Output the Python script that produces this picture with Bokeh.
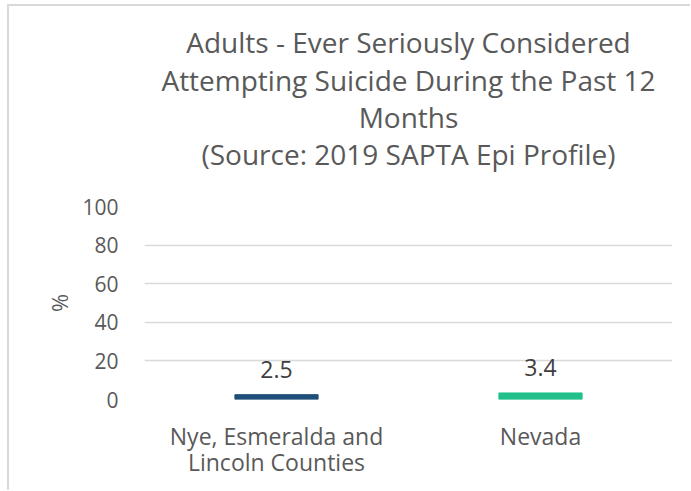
from bokeh.plotting import figure
from bokeh.models import Range1d, FactorRange, Title
from bokeh.core.properties import value
from bokeh.embed import file_html
from bokeh.resources import INLINE

categories = ["Nye, Esmeralda and\nLincoln Counties", "Nevada"]
values = [2.5, 3.4]
value_labels = ["2.5", "3.4"]
bar_colors = ["#1F4E79", "#21C08B"]
title_lines = [
    "Adults - Ever Seriously Considered",
    "Attempting Suicide During the Past 12",
    "Months",
    "(Source: 2019 SAPTA Epi Profile)",
]
y_ticks = [0, 20, 40, 60, 80, 100]

FONT = "Open Sans"
GREY = "#595959"
TSIZE = "28px"

p = figure(
    width=690, height=490,
    x_range=FactorRange(*categories, range_padding=0),
    y_range=Range1d(0, 100),
    output_backend="svg", toolbar_location=None,
    min_border_left=144, min_border_right=18,
    min_border_top=206, min_border_bottom=91,
)
p.styles = {
    "background-image": "linear-gradient(#d9d9d9,#d9d9d9), linear-gradient(#d9d9d9,#d9d9d9)",
    "background-size": "100% 2px, 2px 100%",
    "background-position": "7px 4px, 7px 4px",
    "background-repeat": "no-repeat",
}
p.outline_line_color = None
p.background_fill_color = "white"
p.border_fill_color = None

def style_title(t, text, so):
    t.text = text
    t.align = "center"
    t.text_font = FONT
    t.text_font_size = TSIZE
    t.text_font_style = "normal"
    t.text_color = GREY
    t.standoff = so

# p.title is outermost; added titles stack outward from the frame
style_title(p.title, title_lines[0], -2)
spacer = Title()
style_title(spacer, " ", -5)
p.add_layout(spacer, "above")
for line, so in [(title_lines[3], -2), (title_lines[2], -4), (title_lines[1], -2)]:
    t = Title()
    style_title(t, line, so)
    p.add_layout(t, "above")

p.vbar(x=categories, top=values, width=0.315, color=bar_colors)
p.text(x=categories, y=values, text=value_labels, y_offset=-17,
       text_align="center", text_baseline="bottom",
       text_font=value(FONT), text_font_size="23px", text_color="#404040")

p.xgrid.grid_line_color = None
p.ygrid.grid_line_color = "#d9d9d9"
p.ygrid.grid_line_width = 1.5
p.ygrid.ticker = y_ticks

p.yaxis.ticker = y_ticks
p.yaxis.axis_line_color = None
p.yaxis.major_tick_line_color = None
p.yaxis.minor_tick_line_color = None
p.yaxis.major_label_standoff = 20
p.yaxis.major_label_text_font = FONT
p.yaxis.major_label_text_font_size = "21px"
p.yaxis.major_label_text_color = GREY
p.yaxis.axis_label = "%"
p.yaxis.axis_label_text_font = FONT
p.yaxis.axis_label_text_font_size = "22px"
p.yaxis.axis_label_text_font_style = "normal"
p.yaxis.axis_label_text_color = GREY
p.yaxis.axis_label_standoff = 5

p.xaxis.axis_line_color = None
p.xaxis.major_tick_line_color = None
p.xaxis.minor_tick_line_color = None
p.xaxis.major_label_standoff = 14
p.xaxis.major_label_text_font = FONT
p.xaxis.major_label_text_font_size = "23px"
p.xaxis.major_label_text_color = GREY
p.xaxis.major_label_text_line_height = 0.83

open("out.html", "w").write(file_html(p, INLINE))
